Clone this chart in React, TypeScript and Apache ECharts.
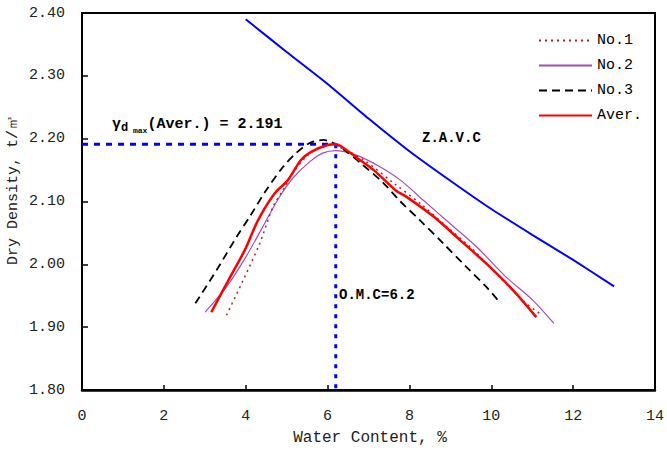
import React, { useEffect, useRef } from "react";
import * as echarts from "echarts";

const xTicks = [0, 2, 4, 6, 8, 10, 12, 14];
const yTicks = [1.8, 1.9, 2.0, 2.1, 2.2, 2.3, 2.4];

const no1W = [3.53, 3.94, 4.34, 4.67, 4.91, 5.15, 5.47, 5.8, 6.12, 6.5, 6.89, 7.62, 8.26, 8.91, 9.56, 10.2, 10.85, 11.2];
const no1D = [1.919, 1.975, 2.033, 2.092, 2.118, 2.145, 2.171, 2.185, 2.19, 2.18, 2.166, 2.129, 2.097, 2.06, 2.023, 1.98, 1.938, 1.921];

const no2W = [3.01, 3.53, 3.98, 4.42, 4.83, 5.15, 5.56, 5.88, 6.2, 6.5, 6.81, 7.29, 7.78, 8.34, 8.99, 9.64, 10.36, 11.01, 11.53];
const no2D = [1.924, 1.964, 2.009, 2.06, 2.108, 2.137, 2.163, 2.177, 2.181, 2.178, 2.171, 2.155, 2.134, 2.102, 2.065, 2.028, 1.98, 1.943, 1.906];

const no3W = [2.77, 3.29, 3.78, 4.1, 4.5, 4.91, 5.23, 5.56, 5.9, 6.2, 6.45, 6.81, 7.37, 7.78, 8.26, 8.83, 9.39, 9.88, 10.16];
const no3D = [1.938, 1.991, 2.044, 2.076, 2.118, 2.155, 2.177, 2.193, 2.198, 2.191, 2.18, 2.161, 2.129, 2.1, 2.07, 2.033, 1.996, 1.964, 1.943];

const averW = [3.16, 3.58, 3.98, 4.3, 4.71, 5.03, 5.35, 5.6, 6.0, 6.2, 6.5, 6.73, 7.13, 7.66, 7.94, 8.59, 9.23, 9.88, 10.53, 11.1];
const averD = [1.924, 1.975, 2.023, 2.07, 2.113, 2.134, 2.166, 2.179, 2.19, 2.191, 2.18, 2.169, 2.15, 2.118, 2.107, 2.076, 2.039, 2.001, 1.959, 1.916];

const zavcW = [4, 5, 6, 7, 8, 9, 10, 11, 12, 13];
const zavcD = [2.39, 2.338, 2.287, 2.232, 2.18, 2.133, 2.088, 2.047, 2.007, 1.965];

const gammaMax = 2.191;
const omc = 6.2;

const pairs = (xs: number[], ys: number[]) => xs.map((x, i) => [x, ys[i]]);

const FONT = "'Liberation Mono', 'DejaVu Sans Mono', monospace";

export default function App() {
  const ref = useRef<HTMLDivElement>(null);
  useEffect(() => {
    if (!ref.current) return;
    const chart = echarts.init(ref.current, null, { renderer: "svg" });
    chart.setOption({
      animation: false,
      backgroundColor: "#fff",
      grid: { left: 82, right: 9, top: 13, bottom: 64, show: true, borderColor: "#000", borderWidth: 2 },
      xAxis: {
        type: "value",
        min: xTicks[0],
        max: xTicks[xTicks.length - 1],
        interval: 2,
        axisLine: { show: true, lineStyle: { color: "#000", width: 2.5 } },
        axisTick: { show: true, inside: true, length: 5, lineStyle: { color: "#000", width: 1.5 } },
        splitLine: { show: false },
        axisLabel: { fontFamily: FONT, fontSize: 15, color: "#222", margin: 19 },
      },
      yAxis: {
        type: "value",
        min: yTicks[0],
        max: yTicks[yTicks.length - 1],
        interval: 0.1,
        axisLine: { show: true, lineStyle: { color: "#000", width: 2 } },
        axisTick: { show: true, inside: true, length: 6, lineStyle: { color: "#000", width: 1.5 } },
        splitLine: { show: false },
        axisLabel: {
          fontFamily: FONT,
          fontSize: 15,
          color: "#222",
          margin: 17,
          formatter: (v: number) => v.toFixed(2),
        },
      },
      legend: {
        data: ["No.1", "No.2", "No.3", "Aver."],
        orient: "vertical",
        left: 533,
        top: 28,
        itemWidth: 53,
        itemHeight: 14,
        itemGap: 10,
        selectedMode: false,
        itemStyle: { opacity: 0 },
        textStyle: { fontFamily: FONT, fontSize: 15, color: "#000" },
      },
      series: [
        {
          name: "Z.A.V.C",
          type: "line",
          symbol: "none",
          smooth: 0.2,
          data: pairs(zavcW, zavcD),
          lineStyle: { color: "#0000ff", width: 2 },
          itemStyle: { color: "#0000ff" },
          z: 2,
        },
        {
          name: "maxline",
          type: "line",
          symbol: "none",
          data: [[0, gammaMax], [omc, gammaMax]],
          lineStyle: { color: "#0000ff", width: 3, type: [6, 6] },
          z: 1,
        },
        {
          name: "omcline",
          type: "line",
          symbol: "none",
          data: [[omc, gammaMax], [omc, 1.8]],
          lineStyle: { color: "#0000ff", width: 3, type: [4, 6] },
          z: 1,
        },
        {
          name: "No.1",
          type: "line",
          symbol: "none",
          smooth: 0.3,
          data: pairs(no1W, no1D),
          lineStyle: { color: "#b22222", width: 1.5, type: [2, 4] },
          itemStyle: { color: "#b22222" },
          z: 4,
        },
        {
          name: "No.2",
          type: "line",
          symbol: "none",
          smooth: 0.3,
          data: pairs(no2W, no2D),
          lineStyle: { color: "#9e4fbf", width: 1.2 },
          itemStyle: { color: "#9e4fbf" },
          z: 3,
        },
        {
          name: "No.3",
          type: "line",
          symbol: "none",
          smooth: 0.3,
          data: pairs(no3W, no3D),
          lineStyle: { color: "#000", width: 1.8, type: [8, 5] },
          itemStyle: { color: "#000" },
          z: 3,
        },
        {
          name: "Aver.",
          type: "line",
          symbol: "none",
          smooth: 0.3,
          data: pairs(averW, averD),
          lineStyle: { color: "#ff0000", width: 2.5 },
          itemStyle: { color: "#ff0000" },
          z: 5,
        },
      ],
      graphic: [
        {
          type: "text",
          x: 13,
          y: 190,
          rotation: Math.PI / 2,
          style: {
            text: "Dry Density, t/㎥",
            font: `15px ${FONT}`,
            fill: "#222",
            align: "center",
            verticalAlign: "middle",
          },
        },
        {
          type: "text",
          x: 370,
          y: 438,
          style: {
            text: "Water Content, %",
            font: `16px ${FONT}`,
            fill: "#222",
            align: "center",
            verticalAlign: "middle",
          },
        },
        {
          type: "text",
          x: 112,
          y: 124,
          style: {
            text: "{g|γ}{s|d}{m| max}{n|(Aver.) = 2.191}",
            align: "left",
            verticalAlign: "middle",
            rich: {
              g: { fontFamily: FONT, fontSize: 15, fontWeight: "bold", fill: "#000", lineHeight: 20, verticalAlign: "middle" },
              s: { fontFamily: FONT, fontSize: 12, fontWeight: "bold", fill: "#000", lineHeight: 20, verticalAlign: "bottom" },
              m: { fontFamily: FONT, fontSize: 8, fontWeight: "bold", fill: "#000", lineHeight: 20, verticalAlign: "bottom" },
              n: { fontFamily: FONT, fontSize: 15, fontWeight: "bold", fill: "#000", lineHeight: 20, verticalAlign: "middle" },
            },
          },
        },
        {
          type: "text",
          x: 422,
          y: 138,
          style: {
            text: "Z.A.V.C",
            font: `bold 14px ${FONT}`,
            fill: "#000",
            align: "left",
            verticalAlign: "middle",
          },
        },
        {
          type: "text",
          x: 339,
          y: 295,
          style: {
            text: "O.M.C=6.2",
            font: `bold 14px ${FONT}`,
            fill: "#000",
            align: "left",
            verticalAlign: "middle",
          },
        },
      ],
    });
    return () => chart.dispose();
  }, []);
  return (
    <div
      ref={ref}
      style={{ position: "fixed", left: 0, top: 0, width: 667, height: 454, background: "#fff" }}
    />
  );
}
